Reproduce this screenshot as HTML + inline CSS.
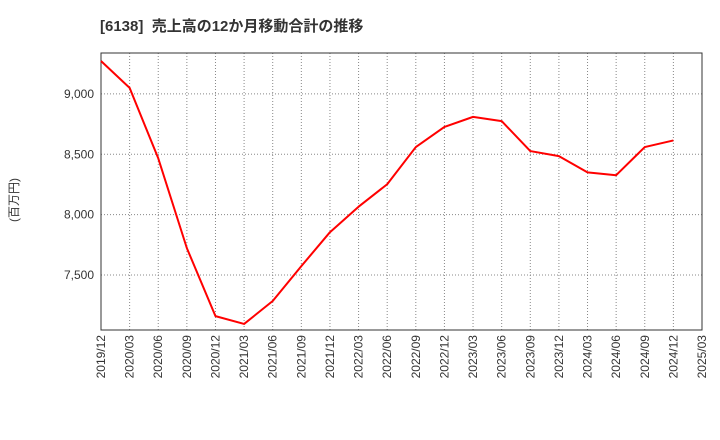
<!DOCTYPE html>
<html><head><meta charset="utf-8"><style>
body{margin:0;background:#fff;}
svg{display:block;font-family:"Liberation Sans","Noto Sans CJK JP",sans-serif;}
</style></head><body>
<svg id="chart" width="720" height="440">
<text x="100" y="31" font-size="15" font-weight="bold" fill="#333" style="white-space:pre">[6138]  売上高の12か月移動合計の推移</text>
<text transform="translate(18,200) rotate(-90)" text-anchor="middle" font-size="12" fill="#333">(百万円)</text>
<g id="grid"></g><g id="axes"></g><g id="series"></g>
</svg>
<script>
const categories=["2019/12","2020/03","2020/06","2020/09","2020/12","2021/03","2021/06","2021/09","2021/12","2022/03","2022/06","2022/09","2022/12","2023/03","2023/06","2023/09","2023/12","2024/03","2024/06","2024/09","2024/12","2025/03"];
const values=[9273,9050,8467,7723,7160,7095,7285,7574,7855,8066,8252,8560,8727,8810,8775,8527,8485,8350,8327,8560,8615];
const yTicks=[7500,8000,8500,9000];
const yTickLabels=["7,500","8,000","8,500","9,000"];
const L=101,R=702,T=53,B=330,yMin=7045,yMax=9339;
const NS="http://www.w3.org/2000/svg";
function x(i){return L+(R-L)*i/(categories.length-1);}
function y(v){return B-(v-yMin)/(yMax-yMin)*(B-T);}
function mk(t,a,p){const e=document.createElementNS(NS,t);for(const k in a)e.setAttribute(k,a[k]);p.appendChild(e);return e;}
const grid=document.getElementById('grid'),axes=document.getElementById('axes'),series=document.getElementById('series');
categories.forEach((c,i)=>{
 const gl=mk('line',{x1:x(i),x2:x(i),y1:T,y2:B,stroke:'#888','stroke-dasharray':'1,2','stroke-width':1},grid);
 
 
 const t=mk('text',{transform:`translate(${x(i)+4},${B+5}) rotate(-90)`,'text-anchor':'end','font-size':12,fill:'#333'},axes);
 t.textContent=c;
 
 
});
yTicks.forEach((v,i)=>{
 const gl=mk('line',{x1:L,x2:R,y1:y(v),y2:y(v),stroke:'#888','stroke-dasharray':'1,2','stroke-width':1},grid);
 
 
 const t=mk('text',{x:L-7,y:y(v)+4,'text-anchor':'end','font-size':12,fill:'#333'},axes);
 t.textContent=yTickLabels[i];
 
 
});
const frame=mk('rect',{x:L,y:T,width:R-L,height:B-T,fill:'none',stroke:'#333','stroke-width':1},axes);


const line=mk('polyline',{points:values.map((v,i)=>x(i)+','+y(v)).join(' '),fill:'none',stroke:'#f00','stroke-width':2,'stroke-linejoin':'round'},series);


</script>
</body></html>
